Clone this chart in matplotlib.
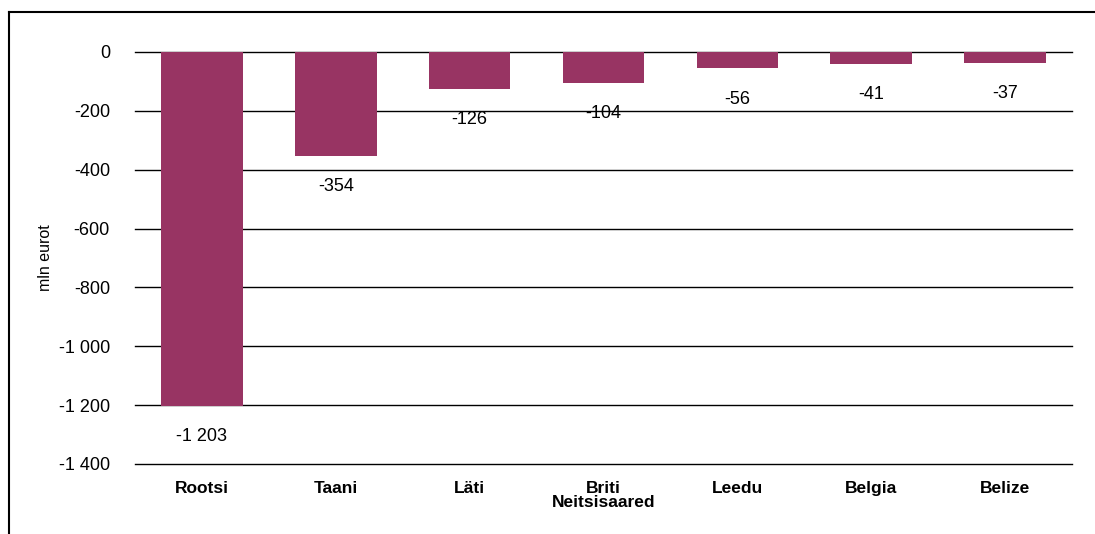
import numpy as np
import matplotlib.pyplot as plt
from matplotlib.lines import Line2D

# data
countries = ["Rootsi", "Taani", "Läti", "Briti\nNeitsisaared", "Leedu", "Belgia", "Belize"]
values = [-1203, -354, -126, -104, -56, -41, -37]
yticks = [0, -200, -400, -600, -800, -1000, -1200, -1400]

plt.rcParams['font.family'] = ['Liberation Sans', 'DejaVu Sans']

def fmt(v):
    s = "{:,}".format(v).replace(",", " ")
    return s

fig = plt.figure(figsize=(10.95, 5.34), dpi=100)
ax = fig.add_axes([135/1095, 1-464/534, (1072-135)/1095, (464-52)/534])

x = np.arange(len(countries))
for t in yticks:
    ax.axhline(t, color='black', linewidth=1.0, zorder=0, clip_on=False)
ax.bar(x, values, width=0.61, color='#983463', zorder=2)

for xi, v in zip(x, values):
    ax.annotate(fmt(v), (xi, v), xytext=(0, -16), textcoords='offset points',
                ha='center', va='top', fontsize=13)

ax.set_xlim(-0.5, len(countries) - 0.5)
ax.set_ylim(-1400, 0)
ax.set_yticks(yticks)
ax.set_yticklabels([fmt(t) for t in yticks], fontsize=13)
ax.set_xticks(x)
ax.set_xticklabels(countries, fontsize=12.5, fontweight='bold', linespacing=0.95)
ax.tick_params(axis='y', length=0, pad=18)
ax.tick_params(axis='x', length=0, pad=12)
for s in ax.spines.values():
    s.set_visible(False)
ax.set_ylabel("mln eurot", fontsize=11.5)
ax.yaxis.set_label_coords(-82/937, 0.5)

# outer frame (left and top edges visible)
fig.add_artist(Line2D([9/1095, 9/1095], [0, 1-12/534], transform=fig.transFigure, color='black', linewidth=1.5))
fig.add_artist(Line2D([9/1095, 1], [1-12/534, 1-12/534], transform=fig.transFigure, color='black', linewidth=1.5))

fig.savefig("out.png", dpi=100)
